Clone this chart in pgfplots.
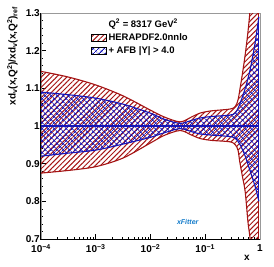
\documentclass[border=0pt]{standalone}
\usepackage{fontspec}
\setmainfont{Liberation Sans}
\usepackage{pgfplots}
\pgfplotsset{compat=1.18}
\usepgfplotslibrary{fillbetween}
\usetikzlibrary{patterns.meta}
\definecolor{hred}{RGB}{165,20,20}
\definecolor{hblue}{RGB}{20,20,185}
\begin{document}
\begin{tikzpicture}
\begin{axis}[
  at={(0pt,0pt)}, anchor=south west,
  scale only axis, width=219pt, height=226pt,
  xmode=log, xmin=1e-4, xmax=1, ymin=0.7, ymax=1.3,
  clip mode=individual,
  axis line style={draw=gray!80, line width=0.6pt},
  tick pos=left, tick align=inside,
  major tick length=5pt, minor tick length=2.5pt,
  every tick/.style={black, line width=0.7pt},
  xtick={1e-4,1e-3,1e-2,1e-1,1},
  xticklabels={10\textsuperscript{−4},10\textsuperscript{−3},10\textsuperscript{−2},10\textsuperscript{−1},1},
  minor xtick={2e-4,3e-4,4e-4,5e-4,6e-4,7e-4,8e-4,9e-4,2e-3,3e-3,4e-3,5e-3,6e-3,7e-3,8e-3,9e-3,2e-2,3e-2,4e-2,5e-2,6e-2,7e-2,8e-2,9e-2,0.2,0.3,0.4,0.5,0.6,0.7,0.8,0.9},
  ytick={0.7,0.8,0.9,1,1.1,1.2,1.3},
  yticklabels={0.7,0.8,0.9,1,1.1,1.2,1.3},
  minor y tick num=4,
  ticklabel style={font=\bfseries\fontsize{10}{10}\selectfont},
  yticklabel style={inner sep=1pt},
  xticklabel style={inner sep=0.5pt, yshift=-4.5pt},
  ylabel={xd\textsubscript{v}(x,Q\textsuperscript{2})/xd\textsubscript{v}(x,Q\textsuperscript{2})\textsubscript{ref}},
  ylabel style={at={(axis description cs:-0.13,1.044)}, anchor=east, font=\bfseries\fontsize{10}{10}\selectfont},
  xlabel={x},
  xlabel style={at={(axis description cs:0.94,-0.085)}, anchor=center, font=\bfseries\fontsize{10}{10}\selectfont},
  legend style={at={(axis description cs:0.228,0.985)}, anchor=north west, draw=none, fill=none,
    font=\bfseries\fontsize{9.5}{10}\selectfont, inner sep=0pt, row sep=1pt, cells={anchor=west}},
  legend cell align=left,
]
\addlegendimage{empty legend}
\addlegendentry{Q\textsuperscript{2} = 8317 GeV\textsuperscript{2}}
\addlegendimage{legend image code/.code={\fill[pattern={Lines[angle=45,distance=3.6pt,line width=1pt]}, pattern color=hred] (0pt,-3.5pt) rectangle (15pt,3.5pt);}}
\addlegendentry{HERAPDF2.0nnlo}
\addlegendimage{legend image code/.code={\fill[pattern={Hatch[angle=45,distance=4pt,line width=0.8pt]}, pattern color=hblue] (0pt,-3.5pt) rectangle (15pt,3.5pt);}}
\addlegendentry{+ AFB |Y| > 4.0}

% HERAPDF band
\addplot[hred, line width=1.1pt, smooth, name path=ru, forget plot] coordinates {
(1e-4,1.145) (3.16e-4,1.130) (1e-3,1.109) (3.16e-3,1.080) (0.01,1.042) (0.0178,1.024)
(0.0347,1.011) (0.0562,1.024) (0.0794,1.034) (0.126,1.040) (0.282,1.045) (0.355,1.052)
(0.398,1.070) (0.427,1.095) (0.479,1.14) (0.537,1.19) (0.603,1.25) (0.661,1.31) (0.741,1.40) (0.955,1.55)};
\addplot[hred, line width=1.1pt, smooth, name path=rl, forget plot] coordinates {
(1e-4,0.875) (3.16e-4,0.882) (1e-3,0.892) (3.16e-3,0.915) (0.01,0.955) (0.0178,0.975)
(0.0347,0.988) (0.0562,0.976) (0.0794,0.967) (0.126,0.962) (0.282,0.958) (0.355,0.950)
(0.398,0.935) (0.427,0.905) (0.479,0.865) (0.537,0.825) (0.603,0.745) (0.661,0.70) (0.741,0.62) (0.955,0.45)};
\addplot[pattern={Lines[angle=45,distance=3.6pt,line width=1pt]}, pattern color=hred, draw=none, forget plot] fill between[of=ru and rl];
\addplot[hred, line width=1.1pt, forget plot] coordinates {(1e-4,1) (0.955,1)};
\addplot[hred, line width=1.1pt, forget plot] coordinates {(0.955,0.45) (0.955,1.55)};

% AFB band
\addplot[hblue, line width=1.1pt, smooth, name path=bu, forget plot] coordinates {
(1e-4,1.090) (3.16e-4,1.083) (1e-3,1.074) (3.16e-3,1.058) (0.01,1.034) (0.0178,1.018)
(0.0347,1.007) (0.0562,1.015) (0.0794,1.021) (0.126,1.025) (0.282,1.029) (0.355,1.035)
(0.427,1.058) (0.537,1.10) (0.661,1.15) (0.813,1.22) (0.955,1.29)};
\addplot[hblue, line width=1.1pt, smooth, name path=bl, forget plot] coordinates {
(1e-4,0.920) (3.16e-4,0.928) (1e-3,0.936) (3.16e-3,0.952) (0.01,0.970) (0.0178,0.982)
(0.0347,0.993) (0.0562,0.985) (0.0794,0.979) (0.126,0.976) (0.282,0.972) (0.355,0.967)
(0.427,0.952) (0.537,0.92) (0.661,0.88) (0.813,0.84) (0.955,0.80)};
\addplot[pattern={Hatch[angle=45,distance=4pt,line width=0.8pt]}, pattern color=hblue, draw=none, forget plot] fill between[of=bu and bl];
\addplot[hblue, line width=1.1pt, forget plot] coordinates {(1e-4,1) (0.955,1)};
\addplot[hblue, line width=1.1pt, forget plot] coordinates {(0.955,0.80) (0.955,1.29)};

\draw[black, line width=1pt] (rel axis cs:0,1) -- (rel axis cs:0,0) -- (rel axis cs:1,0);
\node[font=\bfseries\itshape\fontsize{7}{7}\selectfont, text=cyan!60!blue] at (axis description cs:0.67,0.075) {xFitter};
\end{axis}
\pgfresetboundingbox
\path[use as bounding box] (-41pt,-27pt) rectangle (233pt,239pt);
\end{tikzpicture}
\end{document}
